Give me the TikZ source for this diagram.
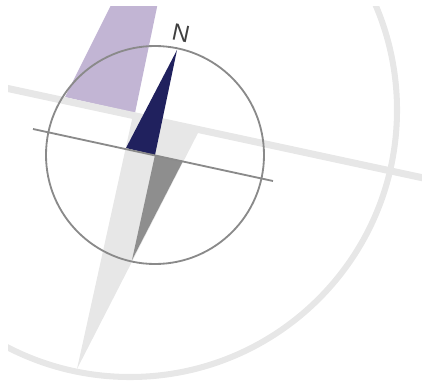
\documentclass[tikz,border=0pt]{standalone}
\usepackage{fontspec}
\setsansfont{Liberation Sans}
\usetikzlibrary{calc}
\definecolor{needlenavy}{RGB}{32,33,94}
\definecolor{needlegray}{RGB}{142,142,142}
\definecolor{palegray}{RGB}{231,231,231}
\definecolor{lavender}{RGB}{194,181,212}
\definecolor{ringgray}{RGB}{138,138,138}
\tikzset{
  pale band/.style  = {draw=palegray, line width=5pt},
  pale arc/.style   = {draw=palegray, line width=4.3pt},
  ring line/.style  = {draw=ringgray, line width=1.3pt},
  north half/.style = {fill=needlenavy},
  south half/.style = {fill=needlegray},
  dial label/.style = {font=\sffamily\fontsize{17}{17}\selectfont, text=black!75,
                       inner sep=0pt},
}

\begin{document}
\begin{tikzpicture}[x=0.25mm,y=-0.25mm]
  \useasboundingbox (0,0) rectangle (422,384);

  % ---- needle points -----------------------------------------------------
  \coordinate (hub)        at (155,155);
  \coordinate (tip north)  at (177,50);
  \coordinate (tip south)  at (132,260);
  \coordinate (base west)  at (126,148);
  \coordinate (base east)  at (183,161);
  \coordinate (axis west)  at (33,129);
  \coordinate (axis east)  at (273,181);

  % ---- background --------------------------------------------------------
  \begin{scope}
    \clip (8,6) rectangle (422,384);
    \fill[lavender] (114.5,-2) -- (158.9,-2) -- (135,113) -- (65,97) -- cycle;
    \draw[pale band] (0,86.8) -- (430,179.4);
    \fill[palegray] (133,115) -- (200,129) -- (77,369) -- cycle;
    \draw[pale arc] (130,110) circle[radius=267];
  \end{scope}

  % ---- compass -----------------------------------------------------------
  \fill[north half] (base west) -- (hub) -- (tip north) -- cycle;
  \fill[south half] (hub) -- (base east) -- (tip south) -- cycle;
  \draw[ring line] (axis west) -- (axis east);
  \draw[ring line] (hub) circle[radius=109];
  \node[dial label, rotate=-12] (north label) at (181,33) {N};
\end{tikzpicture}
\end{document}
